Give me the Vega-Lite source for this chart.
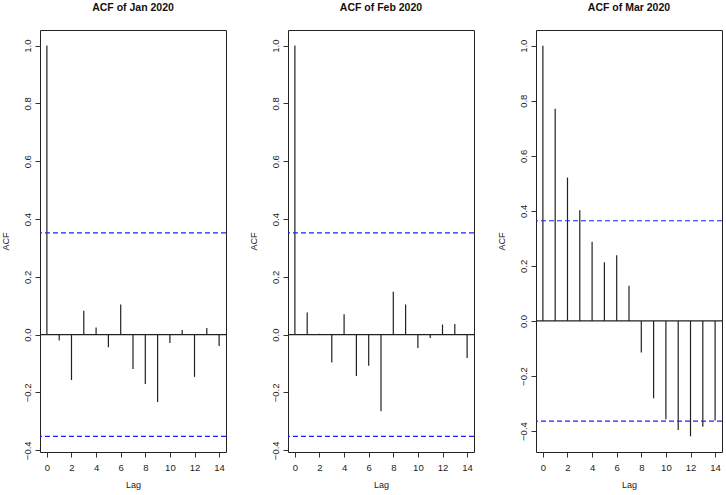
{
  "$schema": "https://vega.github.io/schema/vega-lite/v6.json",
  "padding": {"left": 0, "top": 2, "right": 0, "bottom": 0},
  "background": "white",
  "spacing": 20,
  "datasets": {
    "acf": [
      {"month": "Jan 2020", "lag": 0, "acf": 1.0},
      {"month": "Jan 2020", "lag": 1, "acf": -0.020},
      {"month": "Jan 2020", "lag": 2, "acf": -0.157},
      {"month": "Jan 2020", "lag": 3, "acf": 0.083},
      {"month": "Jan 2020", "lag": 4, "acf": 0.025},
      {"month": "Jan 2020", "lag": 5, "acf": -0.044},
      {"month": "Jan 2020", "lag": 6, "acf": 0.104},
      {"month": "Jan 2020", "lag": 7, "acf": -0.119},
      {"month": "Jan 2020", "lag": 8, "acf": -0.171},
      {"month": "Jan 2020", "lag": 9, "acf": -0.233},
      {"month": "Jan 2020", "lag": 10, "acf": -0.029},
      {"month": "Jan 2020", "lag": 11, "acf": 0.016},
      {"month": "Jan 2020", "lag": 12, "acf": -0.146},
      {"month": "Jan 2020", "lag": 13, "acf": 0.023},
      {"month": "Jan 2020", "lag": 14, "acf": -0.039},
      {"month": "Feb 2020", "lag": 0, "acf": 1.0},
      {"month": "Feb 2020", "lag": 1, "acf": 0.077},
      {"month": "Feb 2020", "lag": 2, "acf": 0.003},
      {"month": "Feb 2020", "lag": 3, "acf": -0.096},
      {"month": "Feb 2020", "lag": 4, "acf": 0.071},
      {"month": "Feb 2020", "lag": 5, "acf": -0.143},
      {"month": "Feb 2020", "lag": 6, "acf": -0.108},
      {"month": "Feb 2020", "lag": 7, "acf": -0.265},
      {"month": "Feb 2020", "lag": 8, "acf": 0.148},
      {"month": "Feb 2020", "lag": 9, "acf": 0.104},
      {"month": "Feb 2020", "lag": 10, "acf": -0.046},
      {"month": "Feb 2020", "lag": 11, "acf": -0.012},
      {"month": "Feb 2020", "lag": 12, "acf": 0.035},
      {"month": "Feb 2020", "lag": 13, "acf": 0.037},
      {"month": "Feb 2020", "lag": 14, "acf": -0.081},
      {"month": "Mar 2020", "lag": 0, "acf": 1.0},
      {"month": "Mar 2020", "lag": 1, "acf": 0.771},
      {"month": "Mar 2020", "lag": 2, "acf": 0.521},
      {"month": "Mar 2020", "lag": 3, "acf": 0.402},
      {"month": "Mar 2020", "lag": 4, "acf": 0.288},
      {"month": "Mar 2020", "lag": 5, "acf": 0.213},
      {"month": "Mar 2020", "lag": 6, "acf": 0.239},
      {"month": "Mar 2020", "lag": 7, "acf": 0.128},
      {"month": "Mar 2020", "lag": 8, "acf": -0.115},
      {"month": "Mar 2020", "lag": 9, "acf": -0.281},
      {"month": "Mar 2020", "lag": 10, "acf": -0.357},
      {"month": "Mar 2020", "lag": 11, "acf": -0.396},
      {"month": "Mar 2020", "lag": 12, "acf": -0.419},
      {"month": "Mar 2020", "lag": 13, "acf": -0.384},
      {"month": "Mar 2020", "lag": 14, "acf": -0.362}
    ],
    "ci": [
      {"month": "Jan 2020", "ci": 0.352},
      {"month": "Jan 2020", "ci": -0.352},
      {"month": "Feb 2020", "ci": 0.352},
      {"month": "Feb 2020", "ci": -0.352},
      {"month": "Mar 2020", "ci": 0.364},
      {"month": "Mar 2020", "ci": -0.364}
    ],
    "zero": [{"z": 0}]
  },
  "hconcat": [
    {
      "title": "ACF of Jan 2020",
      "width": 186,
      "height": 422,
      "layer": [
        {
          "data": {"name": "acf"},
          "transform": [{"filter": {"field": "month", "equal": "Jan 2020"}}],
          "mark": {"type": "rule", "color": "#222", "strokeWidth": 1.2},
          "encoding": {
            "x": {"field": "lag", "type": "quantitative", "title": "Lag", "scale": {"domain": [-0.56, 14.56], "nice": false, "zero": false}, "axis": {"values": [0, 2, 4, 6, 8, 10, 12, 14]}},
            "y": {"field": "acf", "type": "quantitative", "title": "ACF", "scale": {"domain": [-0.406, 1.054], "nice": false, "zero": false}, "axis": {"values": [-0.4, -0.2, 0, 0.2, 0.4, 0.6, 0.8, 1.0], "format": ".1f"}},
            "y2": {"datum": 0}
          }
        },
        {
          "data": {"name": "zero"},
          "mark": {"type": "rule", "color": "#222", "strokeWidth": 1.2},
          "encoding": {"y": {"field": "z", "type": "quantitative"}}
        },
        {
          "data": {"name": "ci"},
          "transform": [{"filter": {"field": "month", "equal": "Jan 2020"}}],
          "mark": {"type": "rule", "color": "#2222ff", "strokeWidth": 1.2, "strokeDash": [5, 3]},
          "encoding": {"y": {"field": "ci", "type": "quantitative"}}
        }
      ]
    },
    {
      "title": "ACF of Feb 2020",
      "width": 186,
      "height": 422,
      "layer": [
        {
          "data": {"name": "acf"},
          "transform": [{"filter": {"field": "month", "equal": "Feb 2020"}}],
          "mark": {"type": "rule", "color": "#222", "strokeWidth": 1.2},
          "encoding": {
            "x": {"field": "lag", "type": "quantitative", "title": "Lag", "scale": {"domain": [-0.56, 14.56], "nice": false, "zero": false}, "axis": {"values": [0, 2, 4, 6, 8, 10, 12, 14]}},
            "y": {"field": "acf", "type": "quantitative", "title": "ACF", "scale": {"domain": [-0.406, 1.054], "nice": false, "zero": false}, "axis": {"values": [-0.4, -0.2, 0, 0.2, 0.4, 0.6, 0.8, 1.0], "format": ".1f"}},
            "y2": {"datum": 0}
          }
        },
        {
          "data": {"name": "zero"},
          "mark": {"type": "rule", "color": "#222", "strokeWidth": 1.2},
          "encoding": {"y": {"field": "z", "type": "quantitative"}}
        },
        {
          "data": {"name": "ci"},
          "transform": [{"filter": {"field": "month", "equal": "Feb 2020"}}],
          "mark": {"type": "rule", "color": "#2222ff", "strokeWidth": 1.2, "strokeDash": [5, 3]},
          "encoding": {"y": {"field": "ci", "type": "quantitative"}}
        }
      ]
    },
    {
      "title": "ACF of Mar 2020",
      "width": 186,
      "height": 422,
      "layer": [
        {
          "data": {"name": "acf"},
          "transform": [{"filter": {"field": "month", "equal": "Mar 2020"}}],
          "mark": {"type": "rule", "color": "#222", "strokeWidth": 1.2},
          "encoding": {
            "x": {"field": "lag", "type": "quantitative", "title": "Lag", "scale": {"domain": [-0.56, 14.56], "nice": false, "zero": false}, "axis": {"values": [0, 2, 4, 6, 8, 10, 12, 14]}},
            "y": {"field": "acf", "type": "quantitative", "title": "ACF", "scale": {"domain": [-0.476, 1.057], "nice": false, "zero": false}, "axis": {"values": [-0.4, -0.2, 0, 0.2, 0.4, 0.6, 0.8, 1.0], "format": ".1f"}},
            "y2": {"datum": 0}
          }
        },
        {
          "data": {"name": "zero"},
          "mark": {"type": "rule", "color": "#222", "strokeWidth": 1.2},
          "encoding": {"y": {"field": "z", "type": "quantitative"}}
        },
        {
          "data": {"name": "ci"},
          "transform": [{"filter": {"field": "month", "equal": "Mar 2020"}}],
          "mark": {"type": "rule", "color": "#2222ff", "strokeWidth": 1.2, "strokeDash": [5, 3]},
          "encoding": {"y": {"field": "ci", "type": "quantitative"}}
        }
      ]
    }
  ],
  "config": {
    "view": {"stroke": "#222", "strokeWidth": 1},
    "font": "Liberation Sans",
    "axis": {
      "domain": false,
      "grid": false,
      "tickColor": "#333",
      "tickSize": 5,
      "labelFont": "Liberation Sans",
      "labelFontSize": 9.5,
      "labelColor": "#222",
      "titleFont": "Liberation Sans",
      "titleFontSize": 9,
      "titleFontWeight": "normal",
      "titleColor": "#222"
    },
    "axisX": {"labelPadding": 5, "titlePadding": 9},
    "axisY": {"labelAngle": 270, "labelPadding": 3, "titlePadding": 12, "labelBaseline": "bottom", "labelAlign": "center"},
    "title": {"font": "Liberation Sans", "fontSize": 10.5, "fontWeight": "bold", "anchor": "middle", "offset": 17, "color": "#111"}
  }
}
